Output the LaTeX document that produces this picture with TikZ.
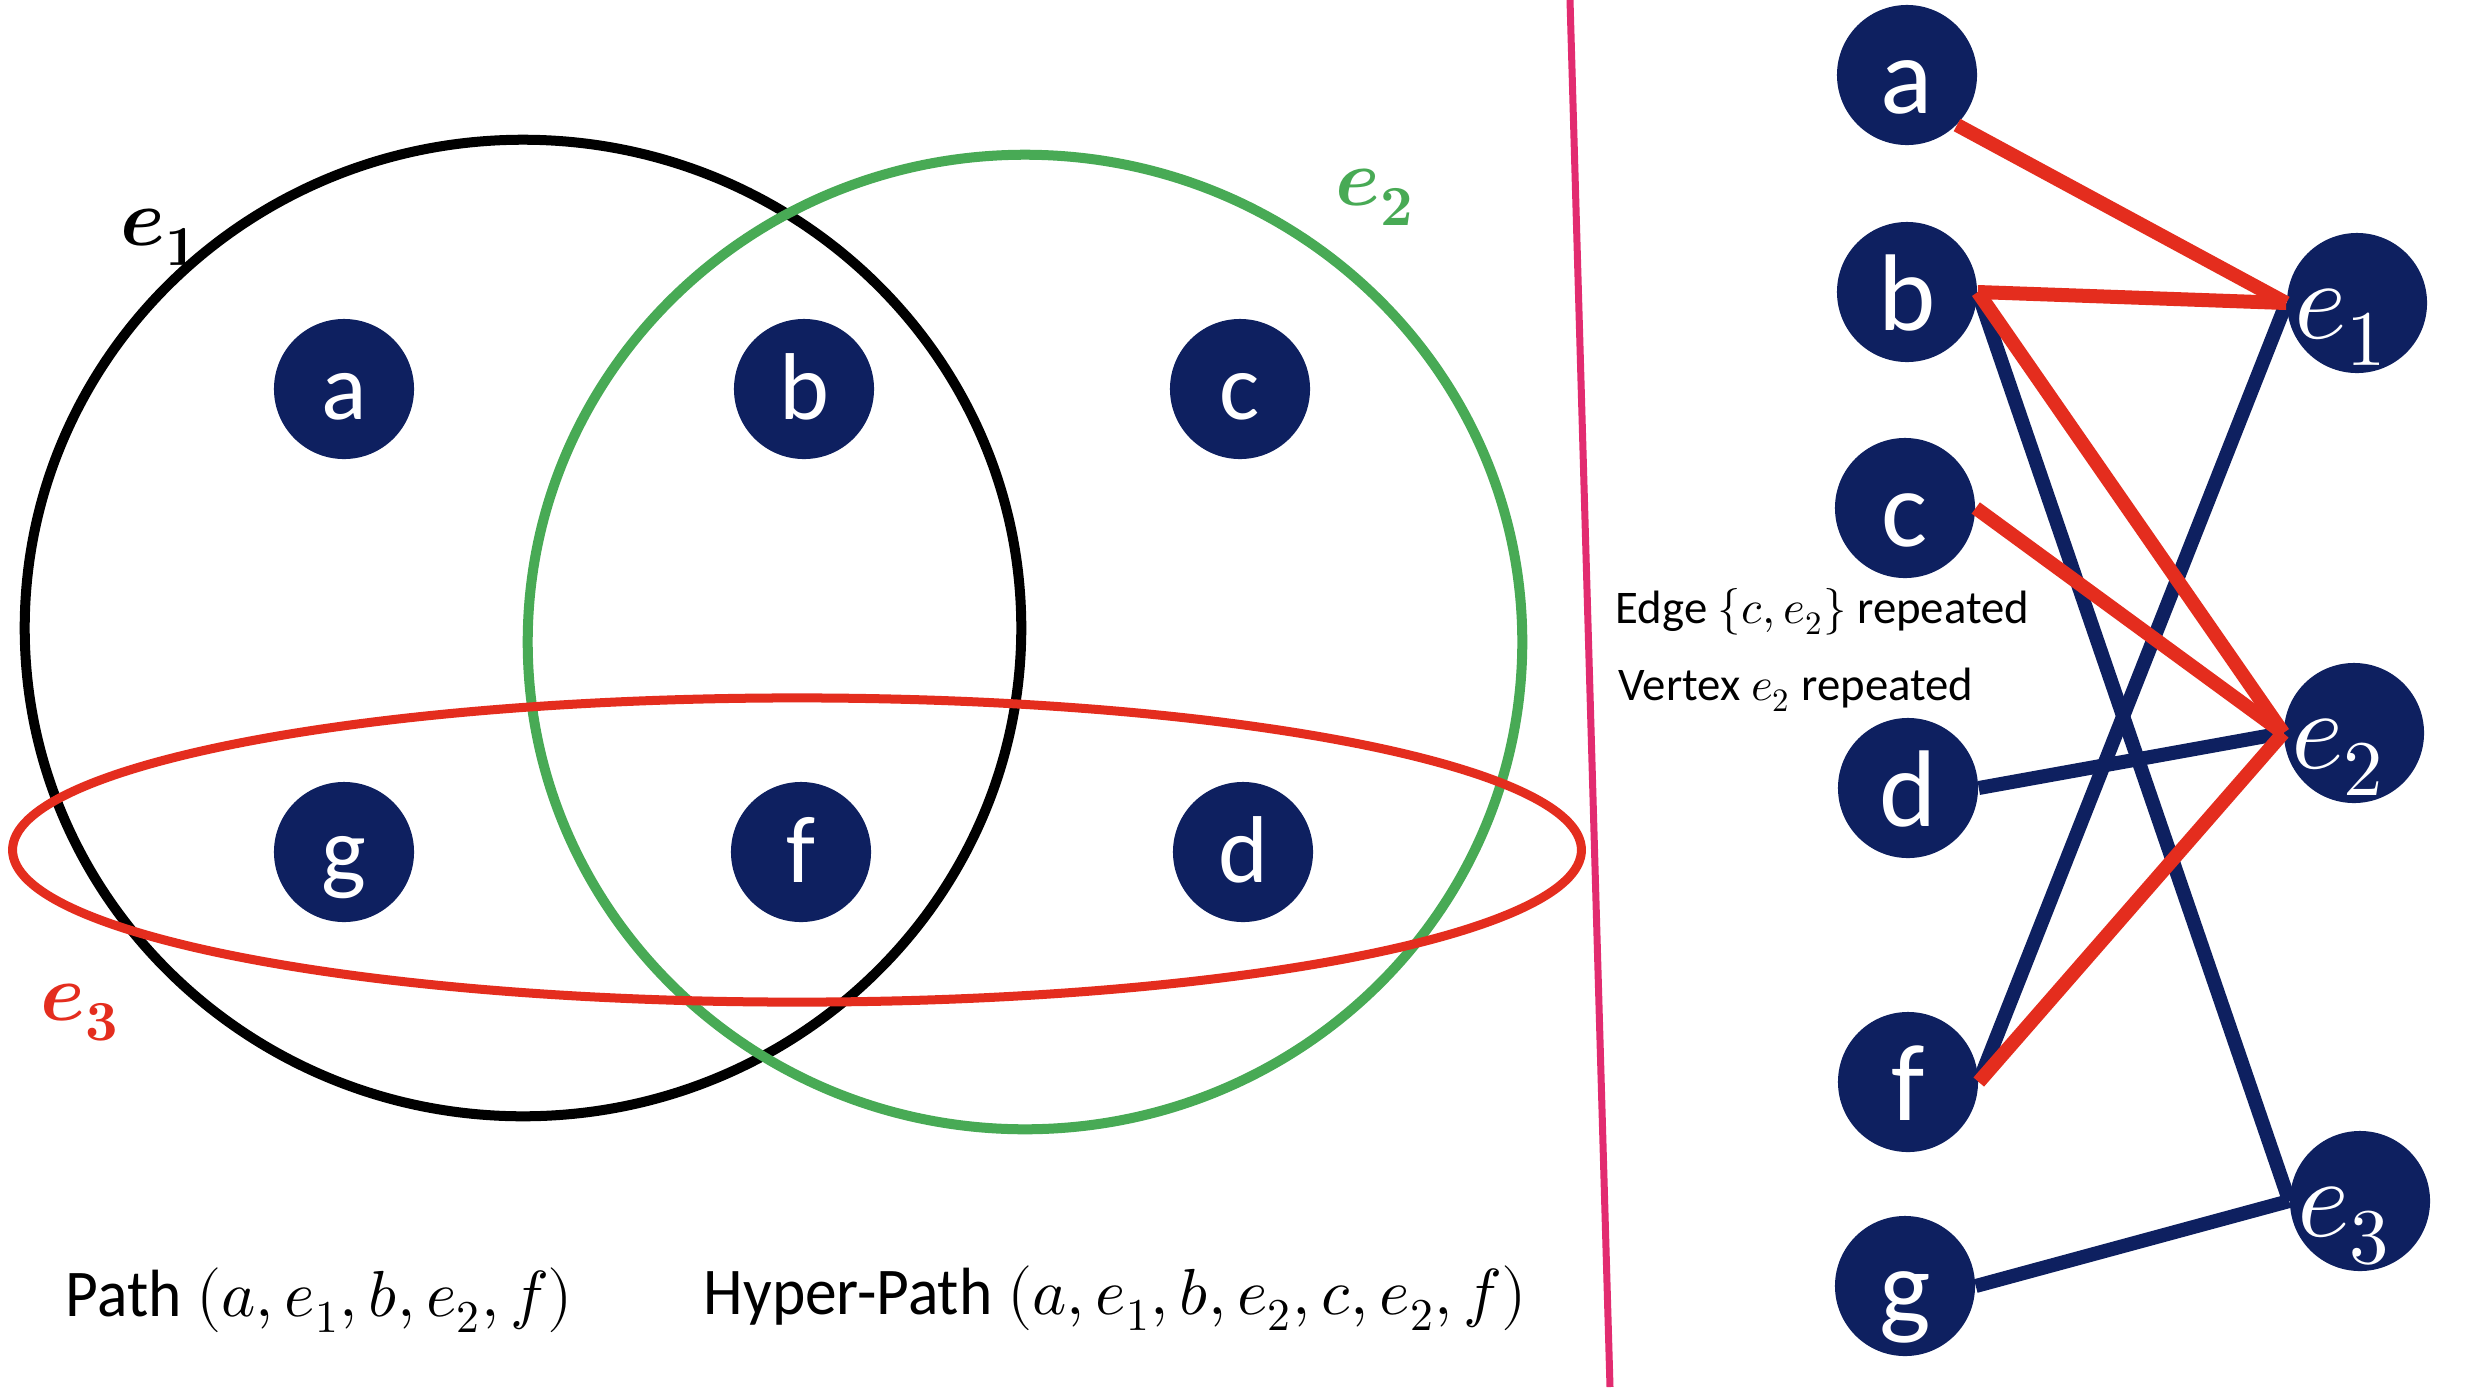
\documentclass[tikz,border=0pt]{standalone}
\usepackage{fontspec}
\usepackage{unicode-math}
\setmainfont{Carlito}
\newfontfamily\narrowfont{Carlito}[FakeStretch=0.95]
\setmathfont{Latin Modern Math}
\definecolor{navy}{RGB}{14,32,96}
\definecolor{myred}{RGB}{228,45,30}
\definecolor{mygreen}{RGB}{72,170,85}
\definecolor{mypink}{RGB}{226,44,112}
\begin{document}
\begin{tikzpicture}[x=0.01cm,y=-0.01cm,
  vtx/.style={circle,fill=navy,text=white,minimum size=1.40cm,inner sep=0pt},
  lv/.style={vtx,font=\fontsize{27}{32}\selectfont,text height=21.6pt,text depth=4.3pt},
  rv/.style={vtx,font=\fontsize{31}{37}\selectfont,text height=25.4pt,text depth=3.7pt},
  ev/.style={vtx,font=\fontsize{32}{38}\selectfont,text height=24pt,text depth=4pt},
  redl/.style={draw=myred,line width=0.14cm},
  bluel/.style={draw=navy,line width=0.14cm},
  hlabel/.style={font=\fontsize{23}{28}\selectfont,inner sep=0pt},
  caption/.style={font=\fontsize{18.5}{22}\selectfont,anchor=base west,inner sep=0pt},
  note/.style={font=\fontsize{13.3}{16}\selectfont,anchor=base west,inner sep=0pt}]
\useasboundingbox (0,0) rectangle (2487,1387);
\fill[white] (0,0) rectangle (2487,1387);

% ---------- left panel: hypergraph ----------
\draw[black, line width=0.10cm] (523,628) ellipse [x radius=4.98cm, y radius=4.88cm];
\draw[mygreen, line width=0.10cm] (1025,642) ellipse [x radius=4.97cm, y radius=4.87cm];
\draw[myred, line width=0.09cm] (797,850) ellipse [x radius=7.84cm, y radius=1.52cm];

\node[hlabel, text=black] (le1) at (160,237) {$\symbfit{e}_{\symbf{1}}$};
\node[hlabel, text=mygreen] (le2) at (1375,197) {$\symbfit{e}_{\symbf{2}}$};
\node[hlabel, text=myred] (le3) at (80,1013) {$\symbfit{e}_{\symbf{3}}$};

\node[lv] (La) at (344,389) {a};
\node[lv] (Lb) at (804,389) {b};
\node[lv] (Lc) at (1240,389) {c};
\node[lv] (Lg) at (344,852) {g};
\node[lv] (Lf) at (801,852) {f};
\node[lv] (Ld) at (1243,852) {d};

\node[caption] (path) at (65,1316) {{\fontsize{19}{22}\selectfont\narrowfont Path} $(a,e_1,b,e_2,f)$};
\node[caption] (hpath) at (703,1314) {{\fontsize{19}{22}\selectfont\narrowfont Hyper-Path} $(a,e_1,b,e_2,c,e_2,f)$};

% ---------- divider ----------
\draw[mypink, line width=0.07cm] (1570,0) -- (1610,1387);

% ---------- right panel: bipartite graph ----------
\node[rv] (a) at (1907,75) {a};
\node[rv] (b) at (1907,292) {b};
\node[rv] (c) at (1905,508) {c};
\node[rv] (d) at (1908,788) {d};
\node[rv] (f) at (1908,1082) {f};
\node[rv] (g) at (1905,1286) {g};
\node[ev] (e1) at (2357,303) {\makebox[0pt]{$e_1$\hspace{0.32cm}}};
\node[ev] (e2) at (2354,733) {\makebox[0pt]{$e_2$\hspace{0.32cm}}};
\node[ev] (e3) at (2360,1201) {\makebox[0pt]{$e_3$\hspace{0.32cm}}};

\draw[bluel] (b.east) -- (e3.west);
\draw[bluel] (f.east) -- (e1.west);
\draw[bluel] (d.east) -- (e2.west);
\draw[bluel] (g.east) -- (e3.west);
\draw[redl] (a.-45) -- (e1.west);
\draw[redl] (b.east) -- (e1.west);
\draw[redl] (b.east) -- (e2.west);
\draw[redl] (c.east) -- (e2.west);
\draw[redl] (f.east) -- (e2.west);

\node[note] (n1) at (1615,623) {Edge $\{c,e_2\}$ repeated};
\node[note] (n2) at (1618,700) {Vertex $e_2$ repeated};
\end{tikzpicture}
\end{document}
